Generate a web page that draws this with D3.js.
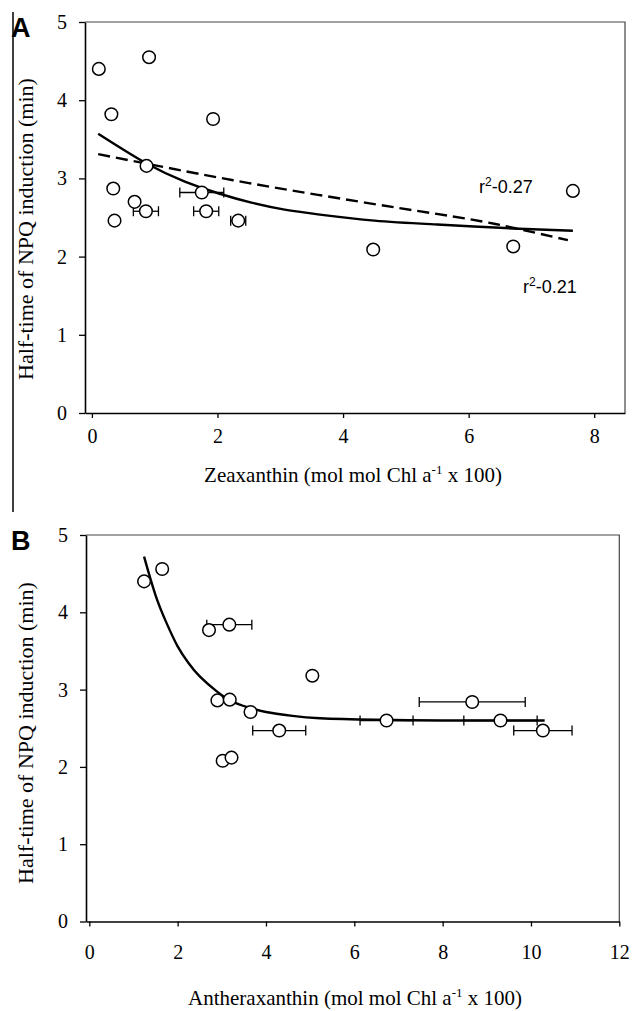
<!DOCTYPE html>
<html>
<head>
<meta charset="utf-8">
<script src="https://cdn.jsdelivr.net/npm/d3@7/dist/d3.min.js"></script>
<style>
	body { margin: 0; background: #ffffff; }
	svg { display: block; }
</style>
</head>
<body>
<div class="figure"></div>
<script>

/* ********* Data ********* */

// Panel A - zeaxanthin
var zeaX   = [0.11, 0.91, 0.31, 1.93, 0.87, 0.34, 0.68, 0.86, 0.36, 1.75, 1.82, 2.33, 7.66, 4.48, 6.71];
var zeaY   = [4.40, 4.55, 3.82, 3.76, 3.16, 2.87, 2.70, 2.58, 2.46, 2.82, 2.58, 2.46, 2.84, 2.09, 2.13];
var zeaErr = [0, 0, 0, 0, 0, 0, 0, 0.2, 0, 0.35, 0.2, 0.12, 0, 0, 0];

// fitted curves, sampled by eye
var zeaFitSolid  = [[0.1, 3.57], [0.87, 3.19], [1.48, 2.96], [2.01, 2.81], [2.54, 2.69], [3.07, 2.6], [3.6, 2.54], [4.5, 2.46], [5.5, 2.41], [6.7, 2.36], [7.66, 2.33]];
var zeaFitDashed = [[0.1, 3.31], [1.5, 3.09], [2.5, 2.94], [3.6, 2.79], [4.9, 2.62], [6.0, 2.48], [6.7, 2.37], [7.58, 2.21]];

var zeaTicksX = [0, 2, 4, 6, 8];

// Panel B - antheraxanthin
var antX   = [1.24, 1.65, 2.71, 3.17, 2.90, 3.18, 3.65, 4.30, 5.05, 6.73, 8.67, 9.31, 10.27, 3.02, 3.22];
var antY   = [4.40, 4.56, 3.77, 3.84, 2.86, 2.87, 2.71, 2.47, 3.18, 2.60, 2.84, 2.60, 2.47, 2.08, 2.12];
var antErr = [0, 0, 0, 0.51, 0, 0, 0, 0.6, 0, 0.6, 1.2, 0.83, 0.66, 0, 0];

var antFit = [[1.24, 4.72], [1.5, 4.22], [1.75, 3.86], [2.0, 3.56], [2.25, 3.34], [2.5, 3.17], [2.9, 2.97], [3.26, 2.84], [3.6, 2.77], [4.0, 2.71], [4.6, 2.66], [5.22, 2.63], [6.5, 2.61], [8.0, 2.6], [10.31, 2.6]];

var antTicksX = [0, 2, 4, 6, 8, 10, 12];

var ticksY = [0, 1, 2, 3, 4, 5];

var yTitle = "Half-time of NPQ induction (min)";


/* ********* Drawing ********* */

var svg = d3.select(".figure")
	.append("svg")
	.attr("width", 633)
	.attr("height", 1011);

var serif = "Liberation Serif, Times New Roman, serif",
	sans = "Liberation Sans, Arial, sans-serif";

// thin rule down the left side of the figure
svg.append("line")
	.attr("x1", 13).attr("x2", 13)
	.attr("y1", 12).attr("y2", 512)
	.style("stroke", "#000")
	.style("stroke-width", 1.5);

function drawPanel(p) {

	var points = p.xs.map(function(d, i) {
		return { x: d, y: p.ys[i], err: p.errs[i] };
	});

	var x = d3.scaleLinear().domain(p.xDomain).range([p.left, p.right]);
	var y = d3.scaleLinear().domain([0, 5]).range([p.bottom, p.top]);

	var g = svg.append("g");

	// frame (top + right)
	g.append("path")
		.attr("d", "M" + p.left + "," + p.top + "H" + p.right + "V" + p.bottom)
		.style("fill", "none")
		.style("stroke", "#444")
		.style("stroke-width", 1.2);

	// x axis
	var gx = g.append("g")
		.attr("transform", "translate(0," + p.bottom + ")")
		.call(d3.axisBottom(x).tickValues(p.ticksX).tickFormat(d3.format("d"))
			.tickSize(5).tickSizeOuter(0).tickPadding(p.xPad));

	// y axis
	var gy = g.append("g")
		.attr("transform", "translate(" + p.left + ",0)")
		.call(d3.axisLeft(y).tickValues(ticksY).tickFormat(d3.format("d"))
			.tickSize(6).tickSizeOuter(0).tickPadding(12));

	[gx, gy].forEach(function(ax) {
		ax.select(".domain").style("stroke", "#000").style("stroke-width", 1.6);
		ax.selectAll(".tick line").style("stroke", "#000").style("stroke-width", 1.3);
		ax.selectAll(".tick text")
			.style("font-family", serif)
			.style("font-size", "20px")
			.style("fill", "#000");
	});

	// fitted curves
	var line = d3.line()
		.x(d => x(d[0]))
		.y(d => y(d[1]))
		.curve(d3.curveNatural);

	p.fits.forEach(function(f) {
		g.append("path")
			.datum(f.data)
			.attr("d", line)
			.style("fill", "none")
			.style("stroke", "#000")
			.style("stroke-width", 2.4)
			.style("stroke-dasharray", f.dash);
	});

	// error bars
	var withErr = points.filter(d => d.err > 0);

	var eb = g.append("g")
		.style("stroke", "#000")
		.style("stroke-width", 1.3);

	eb.selectAll("line.bar")
		.data(withErr)
		.join("line")
		.attr("class", "bar")
		.attr("x1", d => x(d.x - d.err))
		.attr("x2", d => x(d.x + d.err))
		.attr("y1", d => y(d.y))
		.attr("y2", d => y(d.y));

	eb.selectAll("line.capL")
		.data(withErr)
		.join("line")
		.attr("class", "capL")
		.attr("x1", d => x(d.x - d.err))
		.attr("x2", d => x(d.x - d.err))
		.attr("y1", d => y(d.y) - 5)
		.attr("y2", d => y(d.y) + 5);

	eb.selectAll("line.capR")
		.data(withErr)
		.join("line")
		.attr("class", "capR")
		.attr("x1", d => x(d.x + d.err))
		.attr("x2", d => x(d.x + d.err))
		.attr("y1", d => y(d.y) - 5)
		.attr("y2", d => y(d.y) + 5);

	// points
	g.selectAll("circle")
		.data(points)
		.join("circle")
		.attr("cx", d => x(d.x))
		.attr("cy", d => y(d.y))
		.attr("r", 6.3)
		.style("fill", "#fff")
		.style("stroke", "#000")
		.style("stroke-width", 1.5);

	// panel letter
	g.append("text")
		.attr("x", 11)
		.attr("y", p.letterY)
		.style("font-family", sans)
		.style("font-weight", "bold")
		.style("font-size", "27px")
		.text(p.letter);

	// y title
	g.append("text")
		.attr("transform", "translate(33," + p.yTitleY + ") rotate(-90)")
		.style("text-anchor", "middle")
		.style("font-family", serif)
		.style("font-size", "22px")
		.text(yTitle);

	// x title with superscript
	var xt = g.append("text")
		.attr("x", p.xTitleX)
		.attr("y", p.xTitleY)
		.style("text-anchor", "middle")
		.style("font-family", serif)
		.style("font-size", "21px");

	xt.append("tspan").text(p.xTitle + " (mol mol Chl a");
	xt.append("tspan").attr("dy", -8).style("font-size", "13px").text("-1");
	xt.append("tspan").attr("dy", 8).text(" x 100)");

	// r squared labels
	(p.rLabels || []).forEach(function(r) {
		var t = g.append("text")
			.attr("x", r.x)
			.attr("y", r.y)
			.style("font-family", sans)
			.style("font-size", "18px");
		t.append("tspan").text("r");
		t.append("tspan").attr("dy", -7).style("font-size", "12px").text("2");
		t.append("tspan").attr("dy", 7).text(r.text);
	});
}

drawPanel({
	xs: zeaX, ys: zeaY, errs: zeaErr,
	xDomain: [-0.11, 8.49], ticksX: zeaTicksX,
	left: 85, right: 625, top: 22, bottom: 413,
	xPad: 11,
	fits: [
		{ data: zeaFitSolid, dash: null },
		{ data: zeaFitDashed, dash: "12,6" }
	],
	letter: "A", letterY: 37,
	yTitleY: 229,
	xTitle: "Zeaxanthin", xTitleX: 353, xTitleY: 482,
	rLabels: [
		{ x: 479, y: 193, text: "-0.27" },
		{ x: 523, y: 293, text: "-0.21" }
	]
});

drawPanel({
	xs: antX, ys: antY, errs: antErr,
	xDomain: [-0.075, 12], ticksX: antTicksX,
	left: 86, right: 619.3, top: 535, bottom: 921.5,
	xPad: 18,
	fits: [
		{ data: antFit, dash: null }
	],
	letter: "B", letterY: 550,
	yTitleY: 733,
	xTitle: "Antheraxanthin", xTitleX: 355, xTitleY: 1005
});

</script>
</body>
</html>
